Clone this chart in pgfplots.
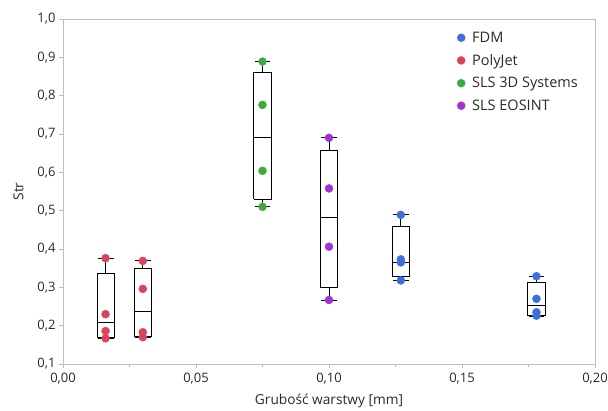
\documentclass[border=0pt]{standalone}
\usepackage{fontspec}
\setmainfont{Open Sans}
\usepackage{pgfplots}
\pgfplotsset{compat=1.18}
\definecolor{fdm}{HTML}{3D6FDB}
\definecolor{poly}{HTML}{D8445A}
\definecolor{slsd}{HTML}{3DAA3D}
\definecolor{eos}{HTML}{A232D6}
\definecolor{frame}{HTML}{BDBDBD}
\definecolor{txt}{HTML}{2A2A2A}

\begin{document}
\begin{tikzpicture}[font=\fontsize{13}{15}\selectfont]
\useasboundingbox (0,0) rectangle (608pt,410pt);
\begin{axis}[
    at={(63pt,46pt)}, anchor=south west,
    scale only axis, width=532pt, height=345pt,
    xmin=0, xmax=0.2, ymin=0.1, ymax=1.0,
    xtick={0,0.05,0.1,0.15,0.2},
    minor xtick={0.025,0.075,0.125,0.175},
    ytick={0.1,0.2,0.3,0.4,0.5,0.6,0.7,0.8,0.9,1.0},
    tick pos=left, tick align=outside,
    major tick length=4pt, minor tick length=3pt,
    axis line style={frame, line width=0.8pt},
    tick style={frame, line width=0.6pt},
    ticklabel style={txt, font=\fontsize{13}{15}\selectfont},
    /pgf/number format/assume math mode=true,
    xticklabel style={yshift=-2pt, /pgf/number format/.cd, fixed, fixed zerofill, precision=2, use comma},
    yticklabel style={/pgf/number format/.cd, fixed, fixed zerofill, precision=1, use comma},
    xlabel={Grubość warstwy [mm]}, ylabel={Str},
    label style={txt, font=\fontsize{13.7}{16}\selectfont},
    xlabel style={yshift=-3pt},
    ylabel style={yshift=7pt},
    legend style={draw=none, fill=none, at={(0.735,0.975)}, anchor=north west,
        row sep=6.5pt, font=\fontsize{14.5}{17}\selectfont, text=txt,
        /tikz/every odd column/.append style={column sep=5pt}},
    legend cell align=left,
    unbounded coords=jump,
    clip=false,
]
% boxes: box, median, whiskers, caps (nan breaks the line)
\pgfplotsset{mybox/.style={black, line width=0.8pt, forget plot}}
\addplot[mybox] coordinates {
    (0.01275,0.169) (0.01925,0.169) (0.01925,0.337) (0.01275,0.337) (0.01275,0.169) (nan,nan)
    (0.01275,0.209) (0.01925,0.209) (nan,nan)
    (0.016,0.337) (0.016,0.376) (nan,nan)
    (0.013,0.376) (0.019,0.376) (nan,nan)
    (0.013,0.168) (0.019,0.168)
};
\addplot[mybox] coordinates {
    (0.02675,0.171) (0.03325,0.171) (0.03325,0.350) (0.02675,0.350) (0.02675,0.171) (nan,nan)
    (0.02675,0.238) (0.03325,0.238) (nan,nan)
    (0.030,0.350) (0.030,0.369) (nan,nan)
    (0.027,0.369) (0.033,0.369) (nan,nan)
    (0.027,0.170) (0.033,0.170)
};
\addplot[mybox] coordinates {
    (0.07175,0.530) (0.07825,0.530) (0.07825,0.861) (0.07175,0.861) (0.07175,0.530) (nan,nan)
    (0.07175,0.690) (0.07825,0.690) (nan,nan)
    (0.075,0.861) (0.075,0.889) (nan,nan)
    (0.072,0.889) (0.078,0.889) (nan,nan)
    (0.075,0.530) (0.075,0.510) (nan,nan)
    (0.072,0.510) (0.078,0.510)
};
\addplot[mybox] coordinates {
    (0.09675,0.300) (0.10325,0.300) (0.10325,0.656) (0.09675,0.656) (0.09675,0.300) (nan,nan)
    (0.09675,0.483) (0.10325,0.483) (nan,nan)
    (0.100,0.656) (0.100,0.690) (nan,nan)
    (0.097,0.690) (0.103,0.690) (nan,nan)
    (0.100,0.300) (0.100,0.267) (nan,nan)
    (0.097,0.267) (0.103,0.267)
};
\addplot[mybox] coordinates {
    (0.12375,0.329) (0.13025,0.329) (0.13025,0.458) (0.12375,0.458) (0.12375,0.329) (nan,nan)
    (0.12375,0.365) (0.13025,0.365) (nan,nan)
    (0.127,0.458) (0.127,0.489) (nan,nan)
    (0.124,0.489) (0.130,0.489) (nan,nan)
    (0.127,0.329) (0.127,0.318) (nan,nan)
    (0.124,0.318) (0.130,0.318)
};
\addplot[mybox] coordinates {
    (0.17475,0.226) (0.18125,0.226) (0.18125,0.312) (0.17475,0.312) (0.17475,0.226) (nan,nan)
    (0.17475,0.252) (0.18125,0.252) (nan,nan)
    (0.178,0.312) (0.178,0.329) (nan,nan)
    (0.175,0.329) (0.181,0.329) (nan,nan)
    (0.175,0.225) (0.181,0.225)
};

% points
\addplot[only marks, mark=*, mark size=4pt, color=fdm] coordinates {
    (0.127,0.489) (0.127,0.373) (0.127,0.365) (0.127,0.318)
    (0.178,0.329) (0.178,0.270) (0.178,0.235) (0.178,0.226)
};
\addlegendentry{FDM}
\addplot[only marks, mark=*, mark size=4pt, color=poly] coordinates {
    (0.016,0.376) (0.016,0.230) (0.016,0.186) (0.016,0.167)
    (0.030,0.369) (0.030,0.296) (0.030,0.183) (0.030,0.170)
};
\addlegendentry{PolyJet}
\addplot[only marks, mark=*, mark size=4pt, color=slsd] coordinates {
    (0.075,0.889) (0.075,0.776) (0.075,0.604) (0.075,0.510)
};
\addlegendentry{SLS 3D Systems}
\addplot[only marks, mark=*, mark size=4pt, color=eos] coordinates {
    (0.100,0.690) (0.100,0.558) (0.100,0.406) (0.100,0.267)
};
\addlegendentry{SLS EOSINT}

% frame top and right
\draw[frame, line width=0.8pt] (rel axis cs:0,1) -- (rel axis cs:1,1) -- (rel axis cs:1,0);
\end{axis}
\end{tikzpicture}
\end{document}
